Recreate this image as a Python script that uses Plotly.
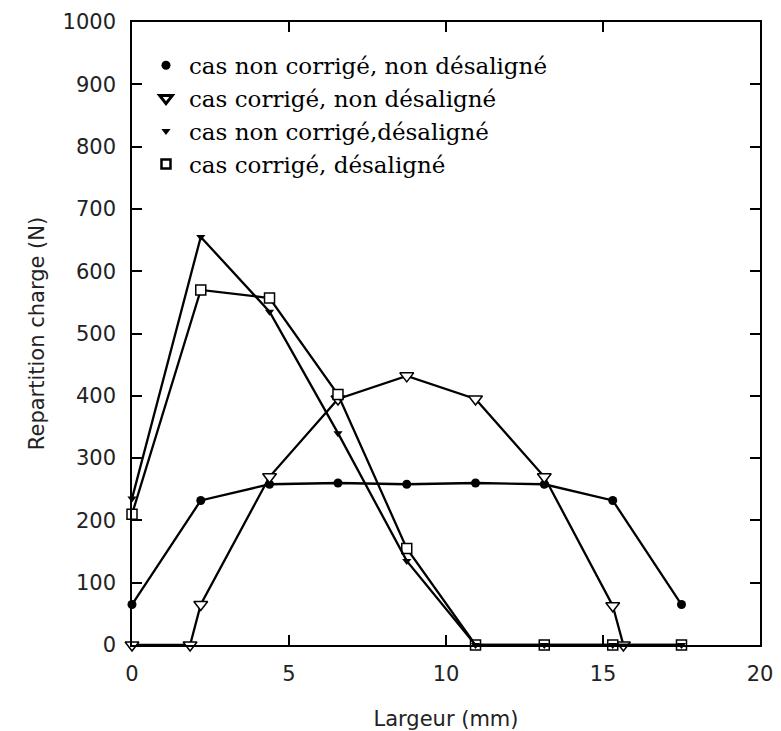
import plotly.graph_objects as go

# Data
x_grid = [0, 2.19, 4.38, 6.56, 8.75, 10.94, 13.13, 15.31, 17.5]

s1_name = "cas non corrigé, non désaligné"
s1_x = x_grid
s1_y = [65, 232, 258, 260, 258, 260, 258, 232, 65]

s2_name = "cas corrigé, non désaligné"
s2_x = [0, 1.85, 2.19, 4.38, 6.56, 8.75, 10.94, 13.13, 15.31, 15.65]
s2_y = [0, 0, 65, 270, 395, 432, 395, 270, 63, 0]

s3_name = "cas non corrigé,désaligné"
s3_x = x_grid
s3_y = [235, 655, 535, 340, 135, 0, 0, 0, 0]

s4_name = "cas corrigé, désaligné"
s4_x = x_grid
s4_y = [210, 570, 557, 402, 155, 0, 0, 0, 0]

x_ticks = [0, 5, 10, 15, 20]
y_ticks = [0, 100, 200, 300, 400, 500, 600, 700, 800, 900, 1000]

fig = go.Figure()

line = dict(color="black", width=2.3)

series = [
    (s1_x, s1_y, s1_name, dict(symbol="circle", size=9, color="black"),
     dict(symbol="circle", size=9, color="black")),
    (s2_x, s2_y, s2_name, dict(symbol="triangle-down", size=12, color="white", line=dict(color="black", width=1.5)),
     dict(symbol="triangle-down", size=11, color="white", line=dict(color="black", width=3))),
    (s4_x, s4_y, s4_name, dict(symbol="square", size=10, color="white", line=dict(color="black", width=1.5)),
     dict(symbol="square", size=9, color="white", line=dict(color="black", width=2.5))),
    (s3_x, s3_y, s3_name, dict(symbol="triangle-down", size=8, color="black"),
     dict(symbol="triangle-down", size=8, color="black")),
]

for xs, ys, name, mk, _ in series:
    fig.add_trace(go.Scatter(x=xs, y=ys, mode="lines+markers", line=line,
                             marker=mk, showlegend=False, cliponaxis=False))

legend_order = [0, 1, 3, 2]
for i, idx in enumerate(legend_order):
    xs, ys, name, mk, lmk = series[idx]
    fig.add_trace(go.Scatter(x=[None], y=[None], mode="markers", marker=lmk,
                             name=name, legendgroup=f"g{i}", legendrank=i + 1))

axis_common = dict(showline=True, linecolor="black", linewidth=1.5, mirror="ticks",
                   ticks="inside", ticklen=10, tickcolor="black", tickwidth=1.5,
                   showgrid=False, zeroline=False, automargin=False,
                   tickfont=dict(family="DejaVu Sans", size=21, color="#222"))

fig.update_xaxes(range=[0, 20], tickvals=x_ticks, ticklabelstandoff=9, **axis_common,
                 title=dict(text="Largeur (mm)", font=dict(family="DejaVu Sans", size=21, color="#222"),
                            standoff=26))
fig.update_yaxes(range=[0, 1000], tickvals=y_ticks, ticklabelstandoff=10, **axis_common,
                 title=dict(text="Repartition charge (N)", font=dict(family="DejaVu Sans", size=21, color="#222"),
                            standoff=12))

fig.update_layout(
    width=781, height=731,
    margin=dict(l=132, r=21, t=22, b=86),
    paper_bgcolor="white", plot_bgcolor="white",
    legend=dict(x=0.0175, y=0.965, xanchor="left", yanchor="top",
                font=dict(family="DejaVu Serif", size=23, color="black"),
                bgcolor="rgba(0,0,0,0)", traceorder="grouped", tracegroupgap=0,
                itemwidth=36),
)

fig.write_html("out.html")
